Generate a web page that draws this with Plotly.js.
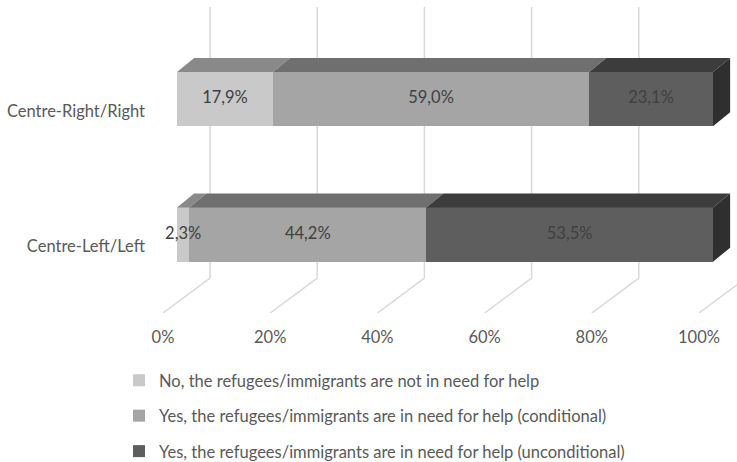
<!DOCTYPE html>
<html>
<head>
<meta charset="utf-8">
<script src="https://cdn.plot.ly/plotly-3.0.1.min.js"></script>
<style>html,body{margin:0;padding:0;background:#fff;}#chart{width:737px;height:462px;}</style>
</head>
<body>
<div id="chart"></div>
<script>
// ---- data ----
var categories = ['Centre-Left/Left', 'Centre-Right/Right'];
var seriesNames = [
  'No, the refugees/immigrants are not in need for help',
  'Yes, the refugees/immigrants are in need for help (conditional)',
  'Yes, the refugees/immigrants are in need for help (unconditional)'
];
var notNeeded     = [2.3, 17.9];
var conditional   = [44.2, 59.0];
var unconditional = [53.5, 23.1];
var tickValues = [0, 20, 40, 60, 80, 100];
var tickLabels = ['0%', '20%', '40%', '60%', '80%', '100%'];

// ---- styles ----
var frontColors = ['#c9c9c9', '#a5a5a5', '#5e5e5e'];
var topColors   = ['#898989', '#6f6f6f', '#3c3c3c'];
var sideColor   = '#2f2f2f';
var FONT = 'Lato, "Open Sans", sans-serif';
var FS = 16.5;

// geometry (depth offsets in data units)
var barWidth = 0.4;
var depthX = 3.2, depthY = 0.103;
var wallDx = 6.16, floorFrontDx = -2.61;
var yWallBottom = -0.322, yFloorFront = -0.579, yTop = 1.68;

var series = [notNeeded, conditional, unconditional];
var catPos = categories.map(function (c, k) { return k; });
var traces = [];

// front faces as real stacked bars
series.forEach(function (vals, i) {
  traces.push({
    type: 'bar', orientation: 'h',
    y: catPos, x: vals,
    name: seriesNames[i], legendgroup: 'g' + i,
    width: barWidth,
    marker: { color: frontColors[i], line: { width: 0 } },
    hoverinfo: 'skip'
  });
});

// top faces and the right side face, computed from the data
var labX = [], labY = [], labT = [];
catPos.forEach(function (k) {
  var start = 0;
  series.forEach(function (vals, i) {
    var x0 = start, x1 = start + vals[k];
    var yt = k + barWidth / 2;
    traces.push({
      type: 'scatter', mode: 'lines', fill: 'toself',
      x: [x0, x1, x1 + depthX, x0 + depthX, x0],
      y: [yt, yt, yt + depthY, yt + depthY, yt],
      fillcolor: topColors[i], line: { width: 0, color: topColors[i] },
      showlegend: false, hoverinfo: 'skip'
    });
    labX.push((x0 + x1) / 2);
    labY.push(k);
    labT.push(vals[k].toFixed(1).replace('.', ',') + '%');
    start = x1;
  });
  var yb = k - barWidth / 2, yt2 = k + barWidth / 2;
  traces.push({
    type: 'scatter', mode: 'lines', fill: 'toself',
    x: [start, start, start + depthX, start + depthX, start],
    y: [yb, yt2, yt2 + depthY, yb + depthY, yb],
    fillcolor: sideColor, line: { width: 0, color: sideColor },
    showlegend: false, hoverinfo: 'skip'
  });
});

// data labels
traces.push({
  type: 'scatter', mode: 'text',
  x: labX, y: labY, text: labT, textposition: 'middle center',
  textfont: { family: FONT, size: FS, color: '#404040' },
  showlegend: false, hoverinfo: 'skip', cliponaxis: false
});

// back-wall gridlines and floor lines, from the tick values
var shapes = [];
tickValues.forEach(function (t) {
  shapes.push({ type: 'line', layer: 'below', xref: 'x', yref: 'y',
    x0: t + wallDx, x1: t + wallDx, y0: yWallBottom, y1: yTop,
    line: { color: '#d9d9d9', width: 1.5 } });
  shapes.push({ type: 'line', layer: 'below', xref: 'x', yref: 'y',
    x0: t + wallDx, x1: t + floorFrontDx, y0: yWallBottom, y1: yFloorFront,
    line: { color: '#d9d9d9', width: 1.5 } });
});

var layout = {
  width: 737, height: 462,
  margin: { l: 150, r: 0, t: 5, b: 149, pad: 0, autoexpand: false },
  paper_bgcolor: '#ffffff', plot_bgcolor: '#ffffff',
  barmode: 'stack',
  separators: ', ',
  font: { family: FONT, size: FS, color: '#595959' },
  xaxis: {
    range: [-5.04, 104.48],
    tickvals: tickValues, ticktext: tickLabels,
    showgrid: false, zeroline: false, showline: false, ticks: '',
    ticklabelshift: -14, ticklabelstandoff: 12,
    tickfont: { family: FONT, size: FS, color: '#595959' },
    fixedrange: true
  },
  yaxis: {
    type: 'linear',
    range: [-0.579, 1.694],
    tickvals: catPos, ticktext: categories,
    showgrid: false, zeroline: false, showline: false, ticks: '',
    ticklabelshift: 12, ticklabelstandoff: 4,
    tickfont: { family: FONT, size: FS, color: '#595959' },
    fixedrange: true
  },
  shapes: shapes,
  showlegend: true,
  legend: {
    orientation: 'v', traceorder: 'grouped', tracegroupgap: 11,
    xref: 'container', yref: 'container',
    x: 0.1615, xanchor: 'left', y: 0.2143, yanchor: 'top',
    font: { family: FONT, size: FS, color: '#595959' },
    bgcolor: 'rgba(0,0,0,0)', itemwidth: 30
  }
};

Plotly.newPlot('chart', traces, layout, { displayModeBar: false, staticPlot: true });
</script>
</body>
</html>
